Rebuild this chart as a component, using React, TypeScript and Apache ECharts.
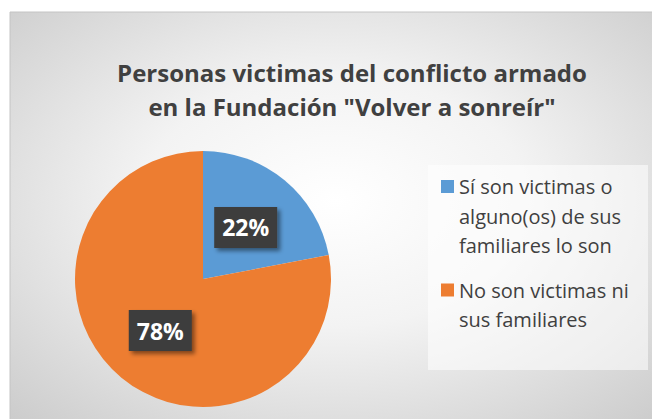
import React, { useEffect, useRef } from "react";
import * as echarts from "echarts";

const categories = [
  "Sí son victimas o alguno(os) de sus familiares lo son",
  "No son victimas ni sus familiares",
];
const legendLines = [
  ["Sí son victimas o", "alguno(os) de sus", "familiares lo son"],
  ["No son victimas ni", "sus familiares"],
];
const values = [22, 78];
const colors = ["#5B9BD5", "#ED7D31"];
const titleText = 'Personas victimas del conflicto armado\nen la Fundación "Volver a sonreír"';

export default function App() {
  const ref = useRef<HTMLDivElement>(null);
  useEffect(() => {
    if (!ref.current) return;
    const chart = echarts.init(ref.current, undefined, { renderer: "svg" });
    const LH = 29.5;
    const H1 = LH * 3;
    const H2 = LH * 2;
    const icon1 = `path://M0,0h0.01v0.01h-0.01zM0,${LH / 2 - 6.5}h13v13h-13zM0,${H1 - 0.01}h0.01v0.01h-0.01z`;
    const icon2 = `path://M0,0h0.01v0.01h-0.01zM0,${LH / 2 - 6.5}h13v13h-13zM0,${H2 - 0.01}h0.01v0.01h-0.01z`;
    const fmt = (name: string) => {
      const i = categories.indexOf(name);
      return legendLines[i].join("\n");
    };
    const legendText = {
      fontFamily: "Open Sans",
      fontSize: 20,
      lineHeight: LH,
      color: "#404040",
    };
    chart.setOption({
      animation: false,
      graphic: [
        {
          type: "rect",
          z: -10,
          shape: { x: 10, y: 12, width: 650, height: 420 },
          style: {
            fill: new echarts.graphic.RadialGradient(0.5, 0.45, 0.85, [
              { offset: 0, color: "#ffffff" },
              { offset: 0.35, color: "#f3f3f3" },
              { offset: 1, color: "#c0c0c0" },
            ]),
            stroke: "#c4c4c4",
            lineWidth: 1,
          },
        },
        {
          type: "rect",
          z: -5,
          shape: { x: 428, y: 165, width: 220, height: 205 },
          style: { fill: "rgba(255,255,255,0.55)" },
        },
      ],
      title: {
        text: titleText,
        left: 352,
        top: 55,
        padding: 0,
        textAlign: "center",
        textStyle: {
          fontFamily: "Open Sans",
          fontWeight: "bold",
          fontSize: 24,
          lineHeight: 34,
          color: "#404040",
        },
      },
      legend: [
        {
          data: [{ name: categories[0], icon: icon1 }],
          orient: "vertical",
          left: 441,
          top: 186.5 - LH / 2,
          padding: 0,
          itemWidth: 13,
          itemHeight: H1,
          itemGap: 0,
          formatter: fmt,
          textStyle: legendText,
          selectedMode: false,
        },
        {
          data: [{ name: categories[1], icon: icon2 }],
          orient: "vertical",
          left: 441,
          top: 290 - LH / 2,
          padding: 0,
          itemWidth: 13,
          itemHeight: H2,
          itemGap: 0,
          formatter: fmt,
          textStyle: legendText,
          selectedMode: false,
        },
      ],
      series: [
        {
          type: "pie",
          center: [203, 279],
          radius: 128,
          startAngle: 90,
          clockwise: true,
          data: categories.map((c, i) => ({
            name: c,
            value: values[i],
            itemStyle: { color: colors[i] },
          })),
          label: {
            show: true,
            position: "inside",
            formatter: "{d}%",
            fontFamily: "Open Sans",
            fontWeight: "bold",
            fontSize: 23,
            lineHeight: 27,
            color: "#ffffff",
            backgroundColor: "#3d3d3d",
            padding: [7, 8, 7, 8],
            shadowColor: "rgba(0,0,0,0.45)",
            shadowBlur: 4,
            shadowOffsetX: 3,
            shadowOffsetY: 3,
          },
          labelLine: { show: false },
          emphasis: { disabled: true },
        },
      ],
    });
    return () => chart.dispose();
  }, []);
  return (
    <div
      style={{ position: "fixed", left: 0, top: 0, width: 652, height: 419, background: "#ffffff" }}
    >
      <div ref={ref} style={{ width: 652, height: 419 }} />
    </div>
  );
}
